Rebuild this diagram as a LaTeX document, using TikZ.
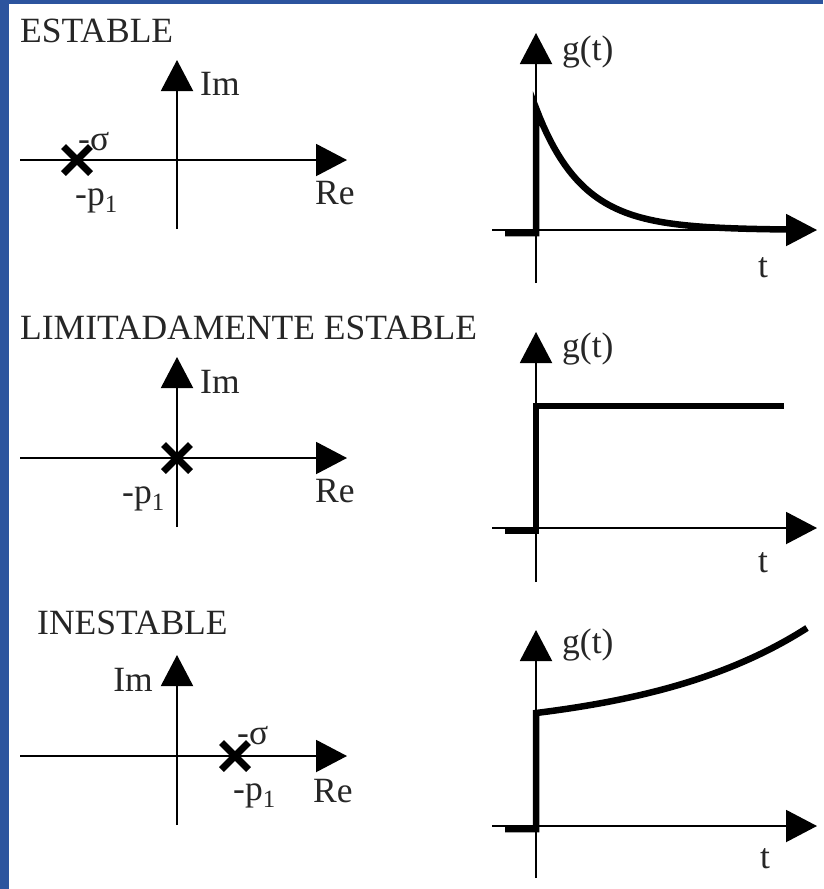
\documentclass[tikz,border=0pt]{standalone}
\usepackage{fontspec}
\setmainfont{Liberation Serif}
\usetikzlibrary{arrows.meta,shapes.misc}
\definecolor{marco}{RGB}{44,84,158}

\begin{document}
\begin{tikzpicture}[x=1pt,y=-1pt,
   every node/.style={font=\fontsize{35.5}{40}\selectfont,text=black!85,inner sep=0pt},
   eje/.style={line width=2pt,-{Triangle[length=31pt 0,width=32pt 0]}},
   senal/.style={line width=6.5pt,line join=miter},
   polo/.style={cross out,draw,minimum size=20pt,line width=7pt}]
  % fondo y borde azul
  \fill[marco] (0,0) rectangle (823,889);
  \fill[white] (9,4) rectangle (823,889);
  \useasboundingbox (0,0) rectangle (823,889);

  % ESTABLE
  \node[anchor=base west] (tit1) at (20,42) {ESTABLE};
  \coordinate (re1a) at (20,160);  \coordinate (re1b) at (347,160);
  \coordinate (im1a) at (177,229); \coordinate (im1b) at (177,60);
  \draw[eje] (re1a) -- (re1b);
  \draw[eje] (im1a) -- (im1b);
  \node[anchor=base west] (im1) at (200,95) {Im};
  \node[anchor=base west] (re1) at (315,204) {Re};
  \node[polo] (p1) at (77,160) {};
  \node[anchor=base west] (sg1) at (78,150) {-σ};
  \node[anchor=base west] (lp1) at (75,205) {-p\textsubscript{1}};
  \coordinate (t1a) at (492,230);  \coordinate (t1b) at (817,230);
  \coordinate (g1a) at (536,283);  \coordinate (g1b) at (536,33);
  \draw[eje] (t1a) -- (t1b);
  \draw[eje] (g1a) -- (g1b);
  \node[anchor=base west] (gt1) at (562,60) {g(t)};
  \node[anchor=base west] (tt1) at (758,277) {t};
  \draw[senal] (505,233) -- (536,233) -- (536,108)
    -- plot[domain=0:250,samples=70] ({536+\x},{230-122*exp(-\x/46)});

  % LIMITADAMENTE ESTABLE
  \node[anchor=base west] (tit2) at (20,339) {LIMITADAMENTE ESTABLE};
  \coordinate (re2a) at (20,458);  \coordinate (re2b) at (347,458);
  \coordinate (im2a) at (177,527); \coordinate (im2b) at (177,357);
  \draw[eje] (re2a) -- (re2b);
  \draw[eje] (im2a) -- (im2b);
  \node[anchor=base west] (im2) at (200,393) {Im};
  \node[anchor=base west] (re2) at (315,502) {Re};
  \node[polo] (p2) at (177,458) {};
  \node[anchor=base west] (lp2) at (122,503) {-p\textsubscript{1}};
  \coordinate (t2a) at (492,528);  \coordinate (t2b) at (817,528);
  \coordinate (g2a) at (536,582);  \coordinate (g2b) at (536,332);
  \draw[eje] (t2a) -- (t2b);
  \draw[eje] (g2a) -- (g2b);
  \node[anchor=base west] (gt2) at (562,357) {g(t)};
  \node[anchor=base west] (tt2) at (758,572) {t};
  \draw[senal] (505,531) -- (536,531) -- (536,406) -- (784,406);

  % INESTABLE
  \node[anchor=base west] (tit3) at (37,634) {INESTABLE};
  \coordinate (re3a) at (20,756);  \coordinate (re3b) at (347,756);
  \coordinate (im3a) at (177,825); \coordinate (im3b) at (177,655);
  \draw[eje] (re3a) -- (re3b);
  \draw[eje] (im3a) -- (im3b);
  \node[anchor=base east] (im3) at (153,691) {Im};
  \node[anchor=base west] (re3) at (313,802) {Re};
  \node[polo] (p3) at (235,756) {};
  \node[anchor=base west] (sg3) at (237,744) {-σ};
  \node[anchor=base west] (lp3) at (233,800) {-p\textsubscript{1}};
  \coordinate (t3a) at (492,826);  \coordinate (t3b) at (817,826);
  \coordinate (g3a) at (536,878);  \coordinate (g3b) at (536,630);
  \draw[eje] (t3a) -- (t3b);
  \draw[eje] (g3a) -- (g3b);
  \node[anchor=base west] (gt3) at (562,653) {g(t)};
  \node[anchor=base west] (tt3) at (760,868) {t};
  \draw[senal] (505,829) -- (536,829) -- (536,713)
    -- plot[domain=0:271,samples=70] ({536+\x},{713-20.4*(exp(\x/165)-1)});
\end{tikzpicture}
\end{document}
